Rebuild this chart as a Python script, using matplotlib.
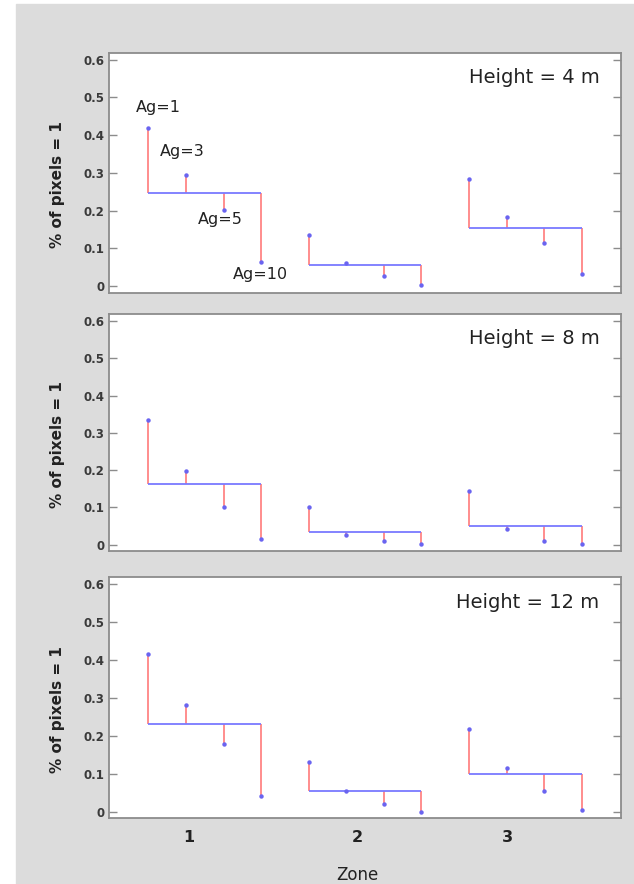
import matplotlib
matplotlib.use('Agg')
import matplotlib.pyplot as plt
import numpy as np
from matplotlib.patches import Rectangle

# values (fraction of pixels = 1)
zones = [1, 2, 3]
ag_levels = [1, 3, 5, 10]
heights = [4, 8, 12]

h4 = [[0.419, 0.295, 0.202, 0.064],
      [0.135, 0.062, 0.027, 0.002],
      [0.285, 0.182, 0.115, 0.031]]
h8 = [[0.334, 0.198, 0.100, 0.014],
      [0.102, 0.025, 0.009, 0.002],
      [0.145, 0.042, 0.009, 0.001]]
h12 = [[0.417, 0.282, 0.178, 0.041],
       [0.132, 0.053, 0.020, 0.000],
       [0.219, 0.115, 0.055, 0.003]]

mean4 = [0.247, 0.057, 0.153]
mean8 = [0.163, 0.034, 0.049]
mean12 = [0.230, 0.053, 0.100]

ytick_vals = [0, 0.1, 0.2, 0.3, 0.4, 0.5, 0.6]
ytick_labels = ['0', '0.1', '0.2', '0.3', '0.4', '0.5', '0.6']
zone_labels = ['1', '2', '3']
zone_label_pos = [0.90, 1.95, 2.89]

panels = [(h4, mean4), (h8, mean8), (h12, mean12)]

W, H = 634, 884
fig = plt.figure(figsize=(W / 100, H / 100), dpi=100)
fig.add_artist(Rectangle((16 / W, 0), 1 - 16 / W, (H - 4) / H,
                         transform=fig.transFigure, color='#dcdcdc', zorder=-5))

# axes boxes in pixels: top, bottom
boxes = [(52.5, 292.5), (314, 551), (577, 818)]
left_px, right_px = 109, 620.5
spacing = 0.234
offsets = (np.arange(len(ag_levels)) - 1.5) * spacing

grey = '#8c8c8c'
red = '#ff7a7a'
blue = '#7a7aff'
dot = '#6a64f0'

axes = []
for k, ((vals, means), (top, bot)) in enumerate(zip(panels, boxes)):
    ax = fig.add_axes([left_px / W, (H - bot) / H, (right_px - left_px) / W, (bot - top) / H])
    axes.append(ax)
    for z, zvals, m in zip(zones, vals, means):
        xs = z + offsets
        ax.vlines(xs, m, zvals, color=red, lw=1.2, zorder=2)
        ax.hlines(m, xs[0], xs[-1], color=blue, lw=1.3, zorder=3)
        ax.plot(xs, zvals, 'o', ms=3.2, color=dot, mec='none', zorder=4)
    ax.set_xlim(0.403, 3.592)
    ax.set_ylim(-0.017, 0.619)
    ax.set_yticks(ytick_vals, ytick_labels, fontsize=8.5, fontweight='bold', color='#3a3a3a')
    ax.tick_params(axis='y', direction='in', length=6, width=1, color=grey,
                   left=True, right=True, pad=3)
    for s in ax.spines.values():
        s.set_color(grey)
        s.set_linewidth(1.3)
    ax.set_ylabel('% of pixels = 1', fontsize=11, fontweight='bold', color='#222222')
    ax.yaxis.set_label_coords(-0.086, 0.45)
    ax.text(0.959, 0.895, f'Height = {heights[k]} m', transform=ax.transAxes,
            ha='right', va='center', fontsize=14, color='#222222')
    if k < 2:
        ax.set_xticks([])
    else:
        ax.set_xticks(zone_label_pos, zone_labels, fontsize=11.5, fontweight='bold', color='#222222')
        ax.tick_params(axis='x', length=0, pad=9)
        ax.set_xlabel('Zone', fontsize=12, color='#222222')
        ax.xaxis.set_label_coords(0.485, -0.2)

# Ag labels on the first zone of the top panel
ax = axes[0]
xs = zones[0] + offsets
label_offsets = [(10, 20), (-4, 23), (-3, -10), (-1, -13)]
for x, y, ag, off in zip(xs, h4[0], ag_levels, label_offsets):
    ax.annotate(f'Ag={ag}', (x, y), xytext=off, textcoords='offset pixels',
                ha='center', va='center', fontsize=11.5, color='#222222')

fig.savefig('out.png', dpi=100)
